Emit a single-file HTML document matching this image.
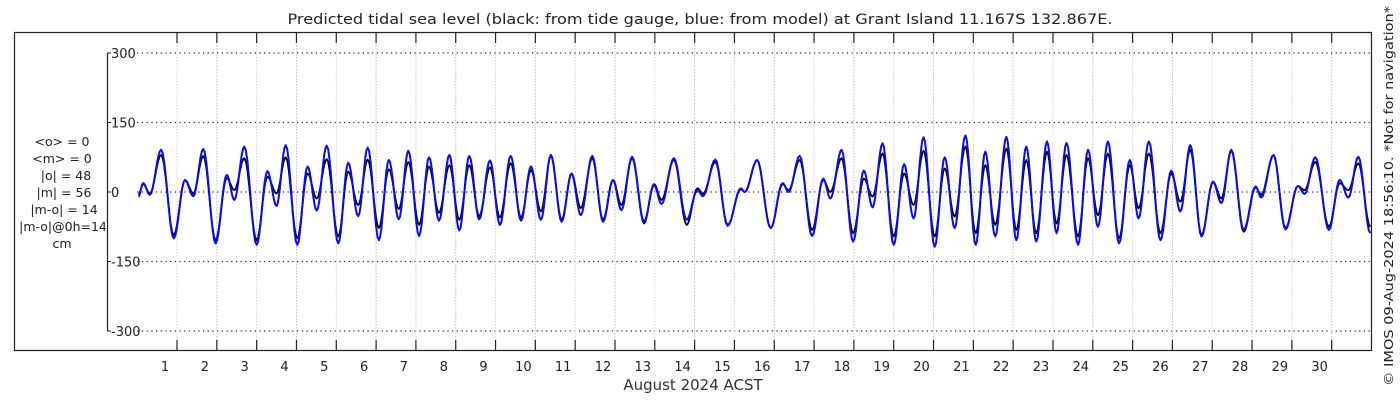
<!DOCTYPE html>
<html><head><meta charset="utf-8"><style>
body{margin:0;background:#fff;}
svg{display:block;font-family:"DejaVu Sans","Liberation Sans",sans-serif;}
</style></head><body>
<svg id="chart" width="1400" height="400">
<rect width="1400" height="400" fill="#fff"/>
<text x="700" y="24" text-anchor="middle" font-size="14" textLength="825" lengthAdjust="spacingAndGlyphs" fill="#222">Predicted tidal sea level (black: from tide gauge, blue: from model) at Grant Island 11.167S 132.867E.</text>
<rect x="14.5" y="32.5" width="1357" height="318" fill="none" stroke="#222" stroke-width="1.2"/>
<g id="grid"></g>
<g id="axes"></g>
<g id="series"></g>
<g font-size="12.5" fill="#222" text-anchor="middle">
<text x="62" y="146">&lt;o&gt; = 0</text>
<text x="62" y="163">&lt;m&gt; = 0</text>
<text x="66" y="180">|o| = 48</text>
<text x="64" y="197">|m| = 56</text>
<text x="64" y="214">|m-o| = 14</text>
<text x="63" y="231">|m-o|@0h=14</text>
<text x="62" y="248">cm</text>
</g>
<text x="693" y="390" text-anchor="middle" font-size="15" fill="#333">August 2024 ACST</text>
<text transform="translate(1393,386) rotate(-90)" font-size="12.5" textLength="380" lengthAdjust="spacingAndGlyphs" fill="#222">© IMOS 09-Aug-2024 18:56:10. *Not for navigation*</text>
</svg>
<script>
const yTicks=[300,150,0,-150,-300];
const dayLabels=[1,2,3,4,5,6,7,8,9,10,11,12,13,14,15,16,17,18,19,20,21,22,23,24,25,26,27,28,29,30];
const extremaDays=[0.03,0.15,0.32,0.60,0.92,1.20,1.41,1.66,1.97,2.25,2.44,2.69,3.00,3.27,3.50,3.73,4.02,4.28,4.51,4.76,5.05,
5.30,5.55,5.79,6.07,6.32,6.57,6.81,7.08,7.33,7.58,7.84,8.09,8.34,8.59,8.86,9.11,9.38,9.64,9.89,10.14,
10.39,10.66,10.91,11.14,11.43,11.70,11.95,12.16,12.43,12.73,12.98,13.17,13.48,13.80,14.07,14.21,14.52,14.83,15.16,15.26,
15.57,15.91,16.21,16.36,16.64,16.95,17.23,17.41,17.69,17.98,18.25,18.47,18.72,19.00,19.26,19.50,19.75,20.03,20.28,20.53,
20.80,21.06,21.30,21.55,21.83,22.08,22.33,22.58,22.85,23.09,23.34,23.63,23.88,24.13,24.38,24.66,24.93,25.15,25.41,25.70,
25.97,26.20,26.45,26.73,27.02,27.23,27.48,27.79,28.09,28.23,28.54,28.84,29.15,29.32,29.59,29.93,30.20,30.42,30.67,30.97];
const modelValues=[-10,19,-6,91,-100,26,-9,93,-111,37,-17,98,-114,45,-30,101,-114,55,-40,100,-111,
63,-52,96,-104,69,-59,89,-95,75,-62,80,-83,78,-59,68,-71,78,-62,55,-60,
80,-64,40,-50,78,-64,26,-39,76,-64,15,-26,73,-60,4,-9,70,-73,8,0,
69,-78,19,0,78,-95,29,-14,91,-107,46,-33,105,-114,60,-57,118,-118,75,-78,
122,-114,87,-96,119,-104,98,-107,109,-89,106,-114,91,-75,109,-111,69,-57,109,-104,
46,-42,101,-96,22,-24,91,-82,12,-12,80,-81,13,-4,75,-82,26,-12,76,-89];
const gaugeValues=[-5,17,-3,80,-93,26,-3,78,-104,30,4,73,-104,33,-3,75,-100,40,-14,71,-96,
44,-28,70,-78,49,-37,65,-71,55,-45,58,-60,58,-52,53,-55,62,-55,47,-42,
78,-60,40,-35,73,-60,26,-28,73,-68,17,-17,70,-71,8,-4,65,-71,6,0,
69,-78,17,4,69,-82,26,0,73,-89,29,-10,83,-96,40,-28,89,-96,51,-53,
98,-89,58,-71,94,-82,69,-89,87,-68,80,-96,73,-50,83,-100,58,-35,83,-89,
40,-21,91,-93,22,-14,89,-86,10,-6,80,-78,13,4,65,-75,19,4,62,-75];

const NS="http://www.w3.org/2000/svg";
const X0=137.2,X1=1371.5,NDAYS=31;
const xS=d=>X0+(X1-X0)*d/NDAYS;
const yS=v=>192-v*(139/300);
function mk(tag,attrs,parent){const e=document.createElementNS(NS,tag);for(const k in attrs)e.setAttribute(k,attrs[k]);parent.appendChild(e);return e;}
const grid=document.getElementById('grid'),axes=document.getElementById('axes'),series=document.getElementById('series');
yTicks.forEach(v=>{
  const l=mk('line',{x1:X0,x2:1371,y1:yS(v),y2:yS(v),stroke:'#222','stroke-width':1.2,'stroke-dasharray':'1.2,3.5'},grid);
  
  
  const t=mk('line',{x1:107,x2:111,y1:yS(v),y2:yS(v),stroke:'#222','stroke-width':1},axes);
  
  
  const tx=mk('text',{x:111,y:yS(v)+5,'font-size':13,fill:'#222'},axes);
  tx.textContent=String(v);
  
  
});
const ya=mk('line',{x1:107.5,x2:107.5,y1:yS(300),y2:yS(-300),stroke:'#222','stroke-width':1.2},axes);


dayLabels.forEach((d,i)=>{
  const x=xS(d);
  const g=mk('line',{x1:x,x2:x,y1:33,y2:350,stroke:(i%2?'#b8b8e8':'#e8c8b8'),'stroke-width':1,'stroke-dasharray':'1.5,1.5'},grid);
  
  
  const t1=mk('line',{x1:x,x2:x,y1:33,y2:43,stroke:'#222','stroke-width':1.2},axes);
  
  
  const t2=mk('line',{x1:x,x2:x,y1:340,y2:350,stroke:'#222','stroke-width':1.2},axes);
  
  
  const tx=mk('text',{x:x-12,y:371,'text-anchor':'middle','font-size':13,fill:'#222'},axes);
  tx.textContent=String(d);
  
  
});
function pathFor(vals){
  let d='M'+xS(extremaDays[0]).toFixed(1)+','+yS(vals[0]).toFixed(1);
  for(let i=0;i<extremaDays.length-1;i++){
    const t0=extremaDays[i],t1=extremaDays[i+1],v0=vals[i],v1=vals[i+1];
    for(let k=1;k<=8;k++){const f=k/8,s=(1-Math.cos(Math.PI*f))/2;
      d+=' L'+xS(t0+(t1-t0)*f).toFixed(1)+','+yS(v0+(v1-v0)*s).toFixed(1);}
  }
  return d;
}
const pg=mk('path',{d:pathFor(gaugeValues),fill:'none',stroke:'#000','stroke-width':1.8,'stroke-linejoin':'round'},series);


const pm=mk('path',{d:pathFor(modelValues),fill:'none',stroke:'#0a0af0','stroke-width':2,'stroke-linejoin':'round'},series);


</script>
</body></html>
